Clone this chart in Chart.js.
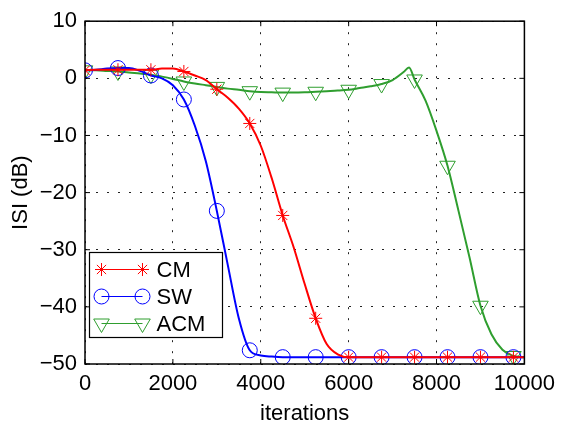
<!DOCTYPE html>
<html>
<head>
<meta charset="utf-8">
<script src="https://cdn.jsdelivr.net/npm/chart.js@4.4.0/dist/chart.umd.min.js"></script>
<style>
    html, body { margin: 0; padding: 0; background: #fff; }
</style>
</head>
<body>
<canvas id="isiChart" width="562" height="427"></canvas>
<script>
    // Data
    const iterations = [0, 250, 500, 750, 1000, 1250, 1500, 1750, 2000, 2250, 2500, 2750, 3000, 3250, 3500, 3750,
        4000, 4250, 4500, 4750, 5000, 5250, 5500, 5750, 6000, 6250, 6500, 6750, 7000, 7250, 7375, 7500,
        7750, 8000, 8250, 8500, 8750, 9000, 9250, 9500, 9750, 10000];
    const cmValues = [1.4, 1.5, 1.5, 1.5, 1.5, 1.5, 1.5, 1.7, 1.7, 1.2, 0.5, -0.3, -1.9, -3.4, -5.3, -7.9,
        -11.8, -17.5, -24.0, -29.6, -36.0, -42.0, -46.5, -48.3, -48.8, -48.8, -48.8, -48.8, -48.8, -48.8, -48.8, -48.8,
        -48.8, -48.8, -48.8, -48.8, -48.8, -48.8, -48.8, -48.8, -48.8, -48.8];
    const swValues = [1.4, 1.5, 1.7, 1.8, 1.8, 1.3, 0.5, 0.0, -1.2, -3.7, -8.3, -14.5, -23.2, -32.7, -42.0, -47.6,
        -48.5, -48.7, -48.8, -48.8, -48.8, -48.8, -48.8, -48.8, -48.8, -48.8, -48.8, -48.8, -48.8, -48.8, -48.8, -48.8,
        -48.8, -48.8, -48.8, -48.8, -48.8, -48.8, -48.8, -48.8, -48.8, -48.8];
    const acmValues = [1.4, 1.4, 1.3, 1.2, 1.0, 0.85, 0.65, 0.3, -0.1, -0.55, -0.9, -1.2, -1.5, -1.8, -2.0, -2.25,
        -2.4, -2.45, -2.5, -2.5, -2.45, -2.35, -2.25, -2.15, -2.0, -1.7, -1.4, -1.0, -0.3, 1.1, 1.9, -0.2,
        -3.9, -9.2, -15.3, -23.2, -31.3, -39.8, -44.8, -47.5, -48.6, -48.8];
    const seriesNames = ['CM', 'SW', 'ACM'];
    const xTicks = [0, 2000, 4000, 6000, 8000, 10000];
    const yTicks = [-50, -40, -30, -20, -10, 0, 10];
    const markerStep = 750;

    const FONT = '"Liberation Sans", Arial, Helvetica, sans-serif';
    Chart.defaults.font.family = FONT;
    Chart.defaults.font.size = 22;
    Chart.defaults.color = '#000';

    const styles = [
        { color: '#ff0000', pointStyle: 'star', radius: 6.5, rotation: 0 },
        { color: '#0000ff', pointStyle: 'circle', radius: 7.5, rotation: 0 },
        { color: '#2f9e2f', pointStyle: 'triangle', radius: 9, rotation: 180 }
    ];

    const toPoints = values => iterations.map((it, i) => ({ x: it, y: values[i] }));
    const markerRadius = r => ctx => (ctx.raw && ctx.raw.x % markerStep === 0) ? r : 0;

    const allValues = [cmValues, swValues, acmValues];
    const datasets = allValues.map((values, i) => ({
        label: seriesNames[i],
        data: toPoints(values),
        borderColor: styles[i].color,
        borderWidth: 2,
        fill: false,
        cubicInterpolationMode: 'monotone',
        pointStyle: styles[i].pointStyle,
        pointRotation: styles[i].rotation,
        pointRadius: markerRadius(styles[i].radius),
        pointBorderColor: styles[i].color,
        pointBackgroundColor: 'rgba(0,0,0,0)',
        pointBorderWidth: 1
    }));

    function drawMarker(ctx, style, x, y) {
        ctx.save();
        ctx.strokeStyle = style.color;
        ctx.fillStyle = 'rgba(0,0,0,0)';
        ctx.lineWidth = 1;
        Chart.helpers.drawPoint(ctx, {
            pointStyle: style.pointStyle,
            rotation: style.rotation,
            radius: style.radius,
            borderWidth: 1
        }, x, y);
        ctx.restore();
    }

    // Axes box, inward ticks and legend (matlab look)
    const framePlugin = {
        id: 'frame',
        afterDraw(chart) {
            const { ctx, chartArea: a, scales: { x, y } } = chart;
            ctx.save();
            ctx.strokeStyle = '#000';
            ctx.lineWidth = 1;
            ctx.beginPath();
            xTicks.forEach(t => {
                const px = x.getPixelForValue(t);
                ctx.moveTo(px, a.bottom); ctx.lineTo(px, a.bottom - 5);
                ctx.moveTo(px, a.top); ctx.lineTo(px, a.top + 5);
            });
            yTicks.forEach(t => {
                const py = y.getPixelForValue(t);
                ctx.moveTo(a.left, py); ctx.lineTo(a.left + 5, py);
                ctx.moveTo(a.right, py); ctx.lineTo(a.right - 5, py);
            });
            ctx.stroke();
            ctx.lineWidth = 1.5;
            ctx.strokeRect(a.left, a.top, a.right - a.left, a.bottom - a.top);

            // legend
            const bx = a.left + 4.5, by = 252.5, bw = 133, bh = 85;
            ctx.fillStyle = '#fff';
            ctx.fillRect(bx, by, bw, bh);
            ctx.lineWidth = 1.2;
            ctx.strokeStyle = '#000';
            ctx.strokeRect(bx, by, bw, bh);
            ctx.font = '22px ' + FONT;
            ctx.textBaseline = 'middle';
            ctx.textAlign = 'left';
            seriesNames.forEach((name, i) => {
                const ry = by + 17 + i * 27;
                const x0 = bx + 12, x1 = bx + 53;
                ctx.strokeStyle = styles[i].color;
                ctx.lineWidth = 1;
                ctx.beginPath();
                ctx.moveTo(x0, ry); ctx.lineTo(x1, ry);
                ctx.stroke();
                drawMarker(ctx, styles[i], x0, ry);
                drawMarker(ctx, styles[i], x1, ry);
                ctx.fillStyle = '#000';
                ctx.fillText(name, bx + 67, ry + 1);
            });
            ctx.restore();
        }
    };

    const gridStyle = {
        color: '#222',
        lineWidth: 1,
        drawTicks: false
    };

    new Chart(document.getElementById('isiChart').getContext('2d'), {
        type: 'line',
        data: { datasets: datasets },
        options: {
            responsive: false,
            animation: false,
            events: [],
            layout: { padding: { top: 16, right: 34, left: 0, bottom: 0 } },
            scales: {
                x: {
                    type: 'linear',
                    min: 0,
                    max: 10000,
                    afterBuildTicks: scale => { scale.ticks = xTicks.map(v => ({ value: v })); },
                    afterFit: scale => { scale.height = 63; },
                    ticks: { padding: 7, font: { size: 22 }, callback: v => String(v) },
                    grid: gridStyle,
                    border: { display: false, dash: [2, 9] },
                    title: { display: true, text: 'iterations', font: { size: 22 }, padding: { top: 0, bottom: 0 } }
                },
                y: {
                    type: 'linear',
                    min: -50,
                    max: 10,
                    afterBuildTicks: scale => { scale.ticks = yTicks.map(v => ({ value: v })); },
                    afterFit: scale => { scale.width = 85; },
                    ticks: { padding: 8, font: { size: 22 }, callback: v => String(v).replace('-', '\u2212') },
                    grid: gridStyle,
                    border: { display: false, dash: [2, 9] },
                    title: { display: true, text: 'ISI (dB)', font: { size: 22 }, padding: { top: 8, bottom: 0 } }
                }
            },
            plugins: {
                legend: { display: false },
                tooltip: { enabled: false }
            }
        },
        plugins: [framePlugin]
    });
</script>
</body>
</html>
